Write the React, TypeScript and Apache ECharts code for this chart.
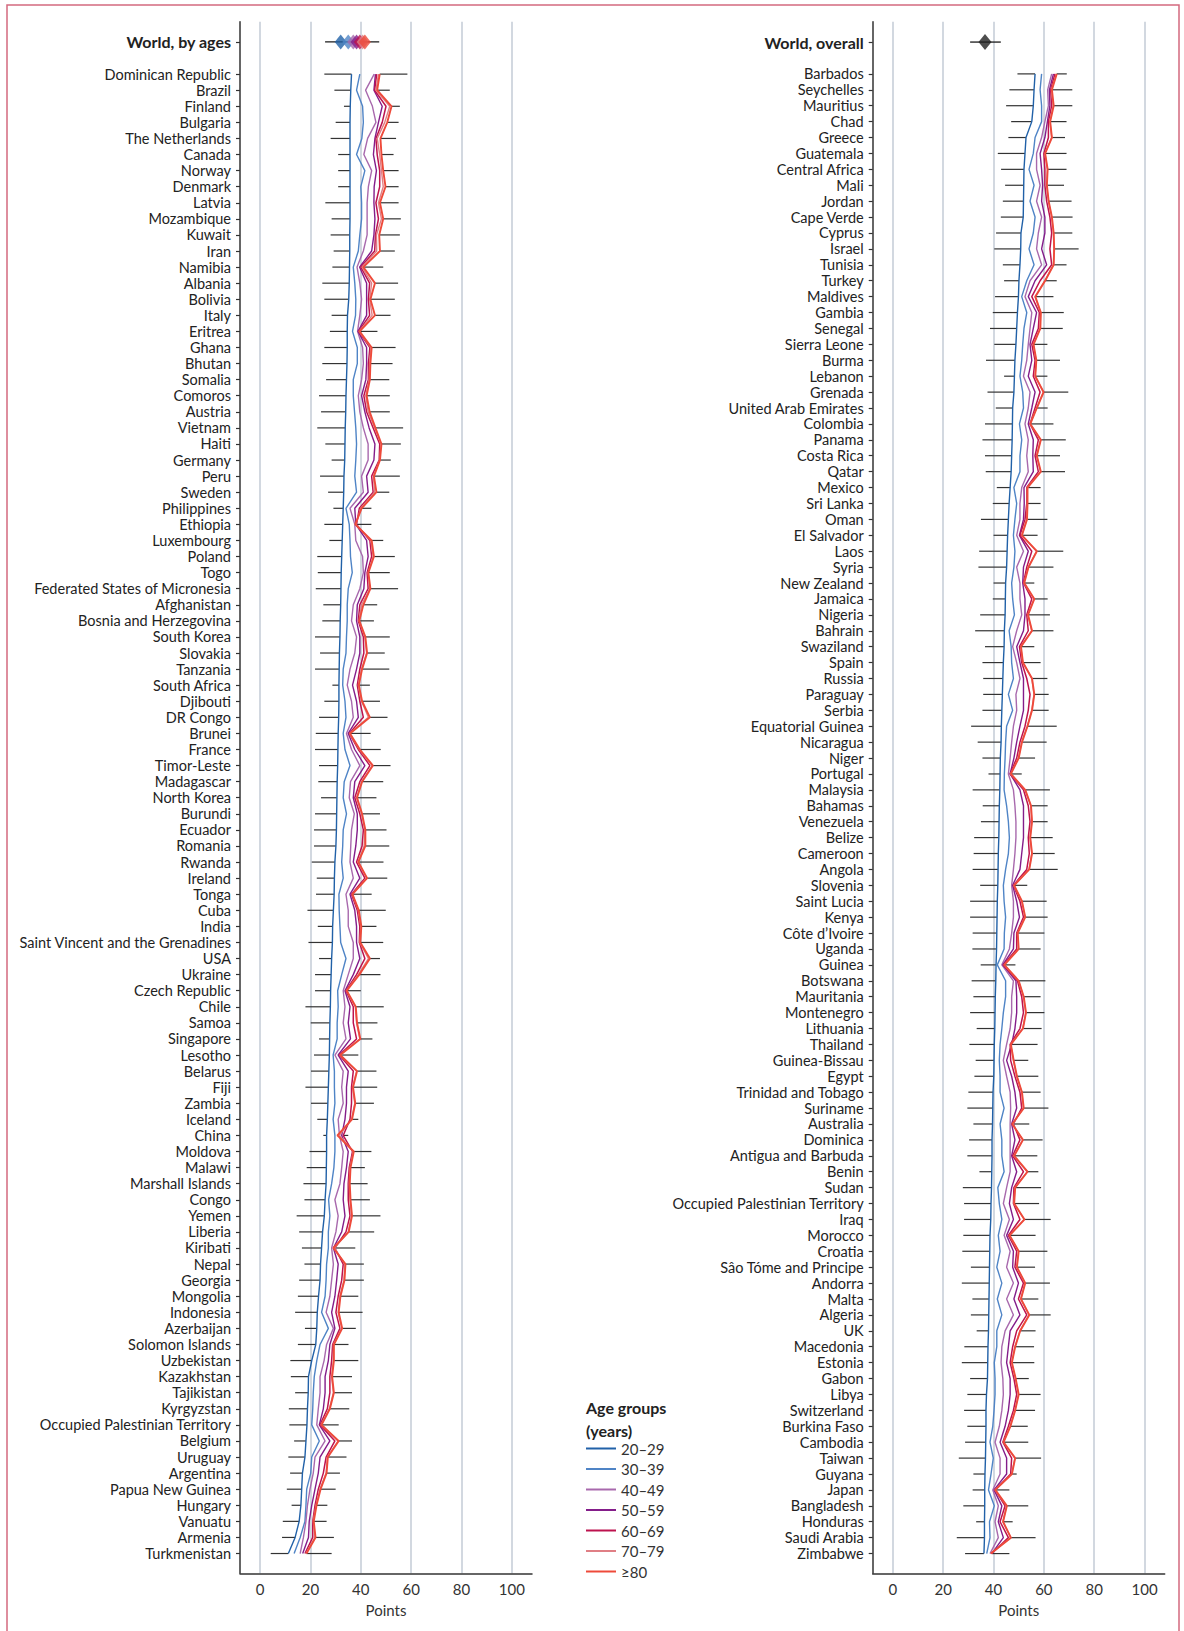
import React, { useEffect, useRef } from 'react';
import * as echarts from 'echarts';

const FONT = 'Lato, "Noto Sans", sans-serif';

const ageGroups = ['20–29', '30–39', '40–49', '50–59', '60–69', '70–79', '≥80'];
const ageColors = ['#2161a8', '#4f84c6', '#a869ad', '#841d8a', '#bd134e', '#e07f85', '#ee4a3a'];

// ---------- Left panel: World, by ages ----------
const leftTitle = 'World, by ages';
const worldAgesValues = [32.0, 35.0, 37.0, 38.3, 39.6, 40.7, 41.6];
const worldAgesLow = 25.8;
const worldAgesHigh = 47.3;

const leftCountries = ['Dominican Republic', 'Brazil', 'Finland', 'Bulgaria', 'The Netherlands', 'Canada', 'Norway', 'Denmark', 'Latvia', 'Mozambique', 'Kuwait', 'Iran', 'Namibia', 'Albania', 'Bolivia', 'Italy', 'Eritrea', 'Ghana', 'Bhutan', 'Somalia', 'Comoros', 'Austria', 'Vietnam', 'Haiti', 'Germany', 'Peru', 'Sweden', 'Philippines', 'Ethiopia', 'Luxembourg', 'Poland', 'Togo', 'Federated States of Micronesia', 'Afghanistan', 'Bosnia and Herzegovina', 'South Korea', 'Slovakia', 'Tanzania', 'South Africa', 'Djibouti', 'DR Congo', 'Brunei', 'France', 'Timor-Leste', 'Madagascar', 'North Korea', 'Burundi', 'Ecuador', 'Romania', 'Rwanda', 'Ireland', 'Tonga', 'Cuba', 'India', 'Saint Vincent and the Grenadines', 'USA', 'Ukraine', 'Czech Republic', 'Chile', 'Samoa', 'Singapore', 'Lesotho', 'Belarus', 'Fiji', 'Zambia', 'Iceland', 'China', 'Moldova', 'Malawi', 'Marshall Islands', 'Congo', 'Yemen', 'Liberia', 'Kiribati', 'Nepal', 'Georgia', 'Mongolia', 'Indonesia', 'Azerbaijan', 'Solomon Islands', 'Uzbekistan', 'Kazakhstan', 'Tajikistan', 'Kyrgyzstan', 'Occupied Palestinian Territory', 'Belgium', 'Uruguay', 'Argentina', 'Papua New Guinea', 'Hungary', 'Vanuatu', 'Armenia', 'Turkmenistan'];

const left20 = [36.3, 36.0, 35.8, 35.7, 35.7, 35.7, 35.7, 35.7, 35.7, 35.7, 35.6, 35.6, 35.5, 35.4, 35.2, 34.7, 34.6, 34.6, 34.5, 34.3, 34.1, 34.0, 33.8, 33.7, 33.6, 33.3, 33.2, 33.0, 32.8, 32.6, 32.4, 32.2, 32.1, 32.0, 31.8, 31.7, 31.5, 31.4, 31.3, 31.3, 31.2, 31.0, 30.9, 30.8, 30.6, 30.5, 30.4, 30.3, 30.1, 29.7, 29.5, 29.4, 29.1, 28.8, 28.7, 28.4, 28.2, 28.0, 27.9, 27.7, 27.6, 27.5, 27.3, 27.1, 26.9, 26.7, 26.4, 26.4, 26.3, 26.2, 25.8, 25.5, 24.8, 24.4, 24.0, 23.8, 23.2, 22.7, 22.5, 22.1, 20.5, 19.2, 19.1, 18.8, 18.6, 18.2, 17.8, 16.8, 16.5, 16.2, 15.5, 13.9, 11.2];
const left30 = [39.6, 38.3, 40.7, 41.0, 40.4, 38.3, 41.6, 40.0, 40.3, 40.3, 39.6, 39.0, 37.0, 37.6, 38.0, 37.9, 36.7, 38.6, 38.6, 37.0, 37.0, 37.5, 38.0, 38.3, 38.0, 37.6, 38.3, 34.1, 35.4, 35.7, 35.9, 36.6, 35.0, 34.6, 34.6, 34.3, 34.1, 33.0, 32.8, 33.7, 34.1, 33.0, 33.7, 35.7, 33.4, 33.0, 34.3, 33.0, 32.8, 32.4, 33.0, 31.3, 31.4, 31.7, 32.0, 34.1, 32.4, 30.8, 31.0, 30.6, 30.6, 29.0, 29.5, 29.5, 29.7, 29.0, 29.7, 29.7, 29.3, 28.4, 27.2, 27.7, 27.1, 27.1, 26.4, 26.2, 25.8, 24.4, 27.1, 23.8, 22.5, 21.5, 21.1, 20.9, 20.5, 23.5, 20.5, 20.1, 18.5, 18.2, 17.8, 15.9, 13.5];
const left40 = [45.3, 41.9, 44.6, 46.0, 42.7, 41.2, 44.3, 43.0, 42.5, 42.5, 42.5, 41.0, 38.5, 39.6, 40.3, 39.6, 38.7, 40.7, 41.0, 40.3, 39.0, 39.6, 41.0, 42.9, 42.9, 40.3, 41.0, 35.7, 37.6, 38.0, 40.7, 41.0, 39.6, 37.0, 36.3, 38.3, 37.6, 35.7, 34.6, 36.3, 37.0, 34.3, 36.3, 39.6, 35.9, 35.4, 37.4, 36.3, 36.0, 35.7, 37.0, 34.1, 35.0, 35.0, 37.0, 37.0, 35.0, 33.0, 33.7, 33.0, 34.1, 29.7, 33.0, 32.4, 33.0, 31.0, 31.5, 33.0, 32.4, 31.7, 29.7, 31.0, 30.1, 28.4, 29.1, 28.4, 27.7, 26.2, 29.1, 26.4, 25.4, 23.8, 23.8, 23.1, 22.5, 25.8, 21.8, 21.1, 19.8, 18.8, 18.2, 17.2, 15.9];
const left50 = [45.8, 45.2, 48.5, 47.0, 45.6, 45.0, 46.2, 45.3, 45.2, 45.6, 45.2, 44.3, 39.5, 42.3, 42.3, 42.3, 38.9, 42.3, 42.3, 42.0, 40.3, 41.6, 43.3, 45.6, 45.2, 42.3, 42.9, 37.6, 38.0, 42.3, 42.9, 41.6, 41.2, 38.6, 38.3, 39.6, 39.6, 38.3, 36.7, 38.3, 39.0, 35.0, 37.6, 41.6, 37.6, 37.0, 38.6, 38.6, 38.0, 37.0, 39.6, 35.7, 37.6, 38.3, 38.3, 39.6, 37.0, 33.7, 35.7, 35.0, 35.9, 31.0, 35.0, 34.3, 34.3, 33.7, 32.4, 35.0, 34.3, 33.3, 33.0, 33.7, 32.4, 29.1, 31.0, 30.4, 29.7, 28.4, 29.7, 27.7, 27.1, 25.8, 25.8, 25.1, 23.5, 27.7, 23.8, 23.1, 21.8, 20.5, 19.5, 19.2, 16.9];
const left60 = [46.3, 45.5, 50.0, 48.5, 46.0, 46.5, 47.5, 47.5, 46.0, 47.0, 45.8, 45.5, 40.0, 43.5, 43.0, 43.5, 39.1, 43.6, 43.0, 43.0, 41.2, 42.3, 44.9, 47.5, 47.3, 44.3, 44.9, 39.4, 38.3, 43.6, 44.3, 42.5, 42.9, 39.6, 39.0, 41.0, 41.2, 39.6, 38.6, 39.6, 41.0, 35.4, 39.0, 43.6, 39.6, 37.6, 39.6, 41.0, 40.5, 38.3, 41.6, 36.3, 38.6, 39.6, 39.4, 41.6, 38.3, 34.1, 37.0, 37.0, 38.3, 31.4, 37.0, 36.3, 36.3, 35.7, 33.0, 36.7, 35.4, 35.0, 35.0, 35.7, 34.1, 29.7, 33.0, 32.4, 31.0, 30.1, 31.7, 28.8, 28.4, 27.7, 27.7, 26.7, 23.8, 29.7, 26.2, 25.1, 23.1, 21.8, 20.9, 20.9, 17.8];
const left70 = [47.0, 46.0, 51.5, 49.5, 46.5, 47.5, 48.2, 48.9, 47.0, 48.2, 46.2, 46.3, 40.5, 44.3, 43.5, 44.5, 39.3, 44.0, 43.5, 43.3, 42.0, 42.9, 45.5, 48.0, 47.5, 45.0, 45.5, 40.0, 38.0, 44.0, 44.9, 42.9, 43.6, 40.3, 39.3, 41.6, 42.3, 40.3, 39.0, 40.3, 43.0, 35.5, 39.4, 44.5, 40.3, 38.3, 40.3, 41.6, 41.3, 38.9, 42.3, 36.6, 39.0, 40.0, 39.6, 43.0, 39.0, 34.3, 37.8, 38.3, 39.6, 31.7, 38.3, 36.7, 37.6, 36.3, 31.5, 37.0, 35.7, 35.4, 35.7, 36.3, 35.0, 29.5, 33.7, 33.3, 31.7, 31.0, 32.4, 29.1, 29.1, 28.4, 29.1, 27.5, 24.2, 31.0, 26.7, 26.2, 23.8, 22.2, 21.1, 21.8, 18.2];
const left80 = [47.5, 46.5, 52.2, 50.5, 47.8, 48.2, 48.9, 49.8, 47.6, 48.9, 47.3, 47.6, 41.0, 45.6, 43.8, 45.6, 39.5, 44.3, 43.8, 43.6, 42.3, 43.5, 45.8, 48.2, 47.6, 45.2, 46.2, 40.3, 37.8, 44.3, 45.2, 43.0, 43.8, 41.0, 39.4, 41.8, 42.5, 40.5, 39.2, 40.5, 43.6, 35.7, 39.6, 44.8, 40.5, 38.5, 40.5, 41.8, 41.8, 39.0, 42.5, 36.7, 39.2, 40.2, 39.8, 43.6, 39.4, 34.4, 38.0, 38.5, 39.8, 31.8, 38.5, 36.9, 37.8, 36.5, 30.7, 37.2, 35.9, 35.6, 35.9, 36.5, 35.2, 29.1, 33.9, 33.5, 31.9, 31.2, 32.6, 29.3, 29.3, 28.6, 29.3, 27.7, 24.4, 31.2, 26.9, 26.4, 24.0, 22.4, 21.3, 22.0, 18.4];
const leftLow = [25.5, 29.5, 33.3, 30.0, 28.0, 31.0, 31.0, 31.0, 25.9, 28.4, 28.0, 29.2, 28.7, 24.7, 25.5, 28.4, 27.7, 25.5, 24.7, 26.2, 23.4, 24.2, 22.7, 25.9, 28.4, 23.8, 27.0, 29.1, 25.5, 27.5, 22.7, 22.9, 22.1, 25.1, 24.7, 21.8, 23.8, 21.8, 28.7, 25.5, 23.4, 22.1, 21.8, 23.4, 23.1, 24.2, 21.8, 21.4, 21.4, 20.5, 22.5, 22.2, 18.8, 22.9, 19.2, 23.4, 21.8, 21.8, 18.0, 20.1, 23.4, 21.4, 20.2, 18.0, 20.2, 22.7, 25.1, 19.6, 18.5, 17.2, 17.6, 14.5, 15.5, 16.6, 17.6, 15.5, 15.0, 13.9, 17.8, 15.0, 12.0, 12.2, 13.9, 11.4, 11.6, 13.5, 11.2, 11.9, 10.6, 12.5, 9.0, 8.7, 4.2];
const leftHigh = [58.5, 51.5, 55.5, 55.0, 54.0, 53.0, 55.0, 55.0, 55.0, 55.9, 55.5, 53.5, 48.9, 54.8, 53.5, 51.8, 46.6, 53.8, 52.6, 51.3, 51.5, 51.5, 56.8, 55.9, 51.9, 55.5, 51.3, 44.2, 44.2, 48.9, 53.5, 51.5, 54.8, 46.5, 45.2, 51.5, 49.5, 51.3, 43.6, 47.6, 50.6, 43.9, 47.9, 51.8, 48.9, 46.2, 47.6, 50.2, 51.3, 49.0, 50.5, 44.3, 49.9, 46.2, 48.9, 47.6, 47.8, 40.0, 49.1, 46.6, 44.6, 39.0, 46.2, 46.5, 45.2, 39.0, 35.0, 44.2, 41.6, 42.7, 43.6, 47.8, 45.3, 37.8, 41.2, 41.2, 39.0, 40.7, 38.0, 35.1, 39.0, 36.5, 36.5, 35.4, 31.2, 36.5, 34.3, 31.7, 30.0, 26.7, 26.4, 29.3, 28.4];

// ---------- Right panel: World, overall ----------
const rightTitle = 'World, overall';
const worldOverallValue = 36.6;
const worldOverallLow = 30.7;
const worldOverallHigh = 42.9;

const rightCountries = ['Barbados', 'Seychelles', 'Mauritius', 'Chad', 'Greece', 'Guatemala', 'Central Africa', 'Mali', 'Jordan', 'Cape Verde', 'Cyprus', 'Israel', 'Tunisia', 'Turkey', 'Maldives', 'Gambia', 'Senegal', 'Sierra Leone', 'Burma', 'Lebanon', 'Grenada', 'United Arab Emirates', 'Colombia', 'Panama', 'Costa Rica', 'Qatar', 'Mexico', 'Sri Lanka', 'Oman', 'El Salvador', 'Laos', 'Syria', 'New Zealand', 'Jamaica', 'Nigeria', 'Bahrain', 'Swaziland', 'Spain', 'Russia', 'Paraguay', 'Serbia', 'Equatorial Guinea', 'Nicaragua', 'Niger', 'Portugal', 'Malaysia', 'Bahamas', 'Venezuela', 'Belize', 'Cameroon', 'Angola', 'Slovenia', 'Saint Lucia', 'Kenya', 'Côte d’Ivoire', 'Uganda', 'Guinea', 'Botswana', 'Mauritania', 'Montenegro', 'Lithuania', 'Thailand', 'Guinea-Bissau', 'Egypt', 'Trinidad and Tobago', 'Suriname', 'Australia', 'Dominica', 'Antigua and Barbuda', 'Benin', 'Sudan', 'Occupied Palestinian Territory', 'Iraq', 'Morocco', 'Croatia', 'Sâo Tóme and Principe', 'Andorra', 'Malta', 'Algeria', 'UK', 'Macedonia', 'Estonia', 'Gabon', 'Libya', 'Switzerland', 'Burkina Faso', 'Cambodia', 'Taiwan', 'Guyana', 'Japan', 'Bangladesh', 'Honduras', 'Saudi Arabia', 'Zimbabwe'];

const right20 = [56.5, 56.1, 55.8, 55.2, 52.9, 52.5, 52.1, 52.0, 51.9, 51.8, 50.9, 50.8, 50.5, 50.1, 49.9, 49.5, 49.2, 48.9, 48.5, 48.3, 48.1, 47.6, 47.5, 47.4, 47.2, 47.0, 46.6, 46.2, 45.9, 45.6, 45.4, 45.2, 44.8, 44.7, 44.6, 44.3, 44.2, 43.9, 43.7, 43.5, 43.3, 43.1, 43.0, 42.7, 42.6, 42.5, 42.3, 42.2, 42.1, 41.9, 41.8, 41.7, 41.5, 41.4, 41.3, 41.2, 41.0, 40.9, 40.7, 40.6, 40.5, 40.3, 40.2, 40.1, 39.8, 39.7, 39.6, 39.4, 39.4, 39.3, 39.2, 39.0, 38.9, 38.6, 38.5, 38.4, 38.3, 38.2, 38.1, 38.0, 37.8, 37.7, 37.6, 37.2, 37.0, 37.0, 36.9, 36.8, 36.6, 36.5, 36.5, 36.4, 36.4, 36.2];
const right30 = [59.1, 58.5, 59.1, 59.1, 56.5, 55.8, 54.1, 56.1, 54.5, 56.5, 55.8, 54.1, 56.1, 53.2, 51.2, 53.2, 52.1, 51.6, 51.2, 50.5, 51.6, 51.9, 50.3, 51.2, 50.5, 50.5, 48.1, 49.2, 48.5, 47.9, 48.5, 48.1, 47.2, 47.6, 48.3, 46.2, 47.0, 47.2, 47.9, 45.9, 47.6, 45.2, 44.8, 44.6, 44.3, 44.2, 45.2, 45.9, 46.3, 45.9, 44.8, 43.9, 44.2, 44.8, 44.3, 44.2, 41.5, 44.8, 44.8, 43.9, 43.3, 42.6, 42.3, 42.6, 42.6, 44.2, 42.6, 43.3, 43.3, 44.2, 41.7, 42.3, 43.3, 41.9, 42.6, 41.3, 43.3, 41.5, 43.3, 41.3, 41.3, 40.3, 40.6, 40.6, 40.2, 39.7, 38.6, 39.9, 39.0, 38.0, 40.3, 38.4, 38.6, 37.3];
const right40 = [63.1, 61.5, 61.8, 60.4, 59.1, 57.1, 57.1, 58.5, 57.1, 59.1, 57.8, 57.1, 59.1, 54.5, 52.5, 55.2, 54.5, 53.8, 53.2, 51.9, 54.5, 53.8, 52.5, 53.8, 53.2, 53.8, 51.2, 50.5, 50.5, 49.2, 51.9, 49.2, 50.5, 50.5, 51.2, 49.2, 47.6, 49.2, 50.5, 48.9, 49.2, 47.9, 47.2, 46.6, 45.9, 47.9, 48.5, 48.9, 48.9, 48.5, 47.9, 47.2, 47.9, 47.9, 47.2, 46.3, 43.3, 47.9, 47.2, 47.2, 46.6, 45.2, 43.9, 45.2, 46.6, 46.8, 46.6, 46.6, 46.6, 46.6, 45.2, 43.9, 46.3, 44.2, 46.6, 45.2, 47.9, 45.2, 47.9, 44.6, 43.3, 43.0, 43.7, 43.9, 43.3, 42.3, 40.6, 42.6, 42.6, 39.7, 41.9, 40.6, 41.9, 38.6];
const right50 = [63.8, 62.2, 62.4, 61.4, 60.4, 58.5, 59.1, 59.5, 59.1, 60.4, 60.4, 59.1, 61.1, 56.5, 53.8, 57.1, 55.8, 54.5, 55.2, 53.8, 56.5, 55.2, 53.8, 55.8, 55.6, 55.8, 52.1, 52.2, 51.9, 50.3, 53.8, 51.9, 51.6, 52.5, 52.5, 51.9, 49.2, 50.5, 51.9, 51.9, 51.9, 50.5, 49.2, 48.1, 46.6, 50.5, 51.9, 51.9, 51.9, 51.2, 50.5, 47.6, 49.2, 50.3, 48.1, 47.9, 43.7, 48.9, 49.2, 49.2, 48.5, 47.2, 45.2, 47.2, 48.5, 49.2, 47.2, 48.5, 47.2, 49.2, 47.2, 46.3, 47.9, 45.2, 47.9, 47.6, 49.9, 48.1, 50.5, 46.6, 45.9, 45.2, 46.6, 46.6, 45.9, 44.6, 42.6, 45.2, 45.2, 40.2, 43.3, 41.9, 43.9, 39.3];
const right60 = [64.4, 62.7, 63.1, 61.8, 61.8, 60.0, 60.4, 60.4, 61.1, 62.4, 63.1, 62.4, 63.1, 58.5, 55.2, 58.2, 57.8, 55.2, 56.5, 55.8, 58.5, 56.5, 54.5, 57.8, 56.5, 57.8, 53.2, 53.2, 52.5, 50.5, 55.2, 53.2, 51.9, 55.2, 53.2, 53.8, 50.3, 51.2, 53.2, 54.5, 53.8, 52.5, 50.5, 49.2, 46.6, 51.9, 53.8, 54.5, 53.8, 54.2, 53.2, 47.9, 50.5, 51.9, 49.2, 49.2, 43.9, 49.5, 51.2, 51.9, 50.5, 46.6, 46.8, 48.5, 50.5, 51.2, 47.9, 50.5, 47.6, 51.9, 48.1, 47.9, 50.5, 45.9, 49.2, 48.5, 51.9, 49.9, 53.2, 49.2, 47.6, 46.6, 48.1, 49.2, 47.9, 45.9, 43.7, 47.2, 46.8, 40.6, 44.6, 42.6, 45.9, 39.3];
const right70 = [65.0, 63.0, 63.7, 62.4, 63.1, 60.4, 61.4, 61.1, 61.8, 63.1, 63.8, 64.0, 63.8, 60.4, 56.5, 58.7, 58.5, 55.8, 56.9, 56.5, 59.8, 57.1, 54.5, 58.7, 57.1, 58.7, 53.4, 53.4, 53.2, 51.2, 57.1, 53.8, 52.1, 56.1, 53.6, 55.2, 50.8, 51.6, 55.2, 56.1, 55.2, 53.4, 51.2, 49.9, 46.8, 52.5, 54.8, 55.2, 54.5, 55.2, 54.1, 48.1, 51.2, 52.5, 49.5, 49.9, 44.2, 49.9, 51.9, 52.8, 51.6, 46.8, 47.9, 49.2, 51.2, 51.9, 47.6, 51.6, 48.1, 53.4, 48.5, 48.1, 52.2, 46.3, 49.9, 49.2, 52.5, 50.8, 54.1, 50.5, 48.5, 47.2, 48.7, 49.9, 48.5, 46.6, 43.9, 48.5, 47.2, 40.6, 45.2, 43.7, 46.8, 39.0];
const right80 = [65.1, 63.2, 63.9, 62.5, 63.2, 60.5, 61.5, 61.2, 61.9, 63.2, 63.9, 64.1, 63.9, 60.5, 56.6, 58.8, 58.6, 55.9, 57.0, 56.6, 59.9, 57.2, 54.6, 58.8, 57.2, 58.8, 53.5, 53.5, 53.3, 51.3, 57.2, 53.9, 52.2, 56.2, 53.7, 55.3, 50.9, 51.7, 55.3, 56.2, 55.3, 53.5, 51.3, 50.0, 46.9, 52.6, 54.9, 55.3, 54.6, 55.3, 54.2, 48.2, 51.3, 52.6, 49.6, 50.0, 44.3, 50.0, 52.0, 52.9, 51.7, 46.9, 48.0, 49.3, 51.3, 52.0, 47.4, 51.7, 48.2, 53.5, 48.6, 48.2, 52.3, 46.4, 50.0, 49.3, 52.6, 50.9, 54.2, 50.6, 48.6, 47.3, 48.8, 50.0, 48.6, 46.7, 44.0, 48.6, 47.3, 40.7, 45.3, 43.8, 46.9, 38.9];
const rightLow = [49.5, 46.3, 45.0, 47.0, 45.9, 41.7, 43.0, 44.6, 43.7, 42.9, 41.0, 40.3, 43.7, 44.2, 40.6, 39.7, 38.6, 40.3, 37.0, 44.2, 37.6, 40.9, 36.6, 35.6, 36.6, 36.9, 41.3, 39.7, 35.0, 40.0, 34.3, 34.0, 40.0, 39.7, 34.7, 32.7, 36.6, 35.6, 35.9, 35.9, 35.6, 31.1, 33.7, 35.6, 38.0, 31.7, 35.7, 35.0, 32.3, 32.1, 31.7, 34.7, 30.7, 30.7, 31.7, 31.6, 34.9, 31.3, 32.0, 30.7, 33.3, 30.4, 32.9, 32.4, 30.0, 29.6, 32.0, 30.3, 29.6, 34.4, 27.8, 28.3, 28.3, 28.0, 27.6, 31.0, 27.4, 31.6, 31.0, 33.3, 28.4, 27.4, 30.7, 29.6, 28.3, 29.6, 28.7, 26.2, 32.0, 31.7, 28.0, 33.1, 25.4, 28.7];
const rightHigh = [69.1, 71.3, 71.3, 69.0, 68.4, 69.0, 69.0, 68.0, 71.0, 71.4, 71.3, 73.8, 69.0, 65.1, 63.8, 67.9, 67.5, 61.4, 66.4, 61.4, 69.7, 61.5, 63.8, 68.7, 66.4, 68.4, 58.7, 58.7, 61.4, 57.5, 67.7, 63.8, 56.2, 61.5, 62.4, 63.8, 56.2, 58.7, 61.4, 61.9, 61.9, 65.1, 61.1, 56.5, 51.2, 62.4, 61.5, 61.5, 63.5, 64.3, 65.5, 53.4, 61.1, 61.5, 60.2, 58.7, 48.7, 60.6, 58.7, 60.2, 59.1, 57.5, 53.8, 57.8, 58.7, 61.8, 54.2, 59.5, 57.4, 57.8, 58.9, 58.1, 62.7, 56.7, 61.4, 56.5, 62.4, 57.8, 62.7, 56.7, 56.1, 56.2, 54.0, 58.7, 56.5, 53.6, 53.8, 58.9, 49.2, 46.3, 53.8, 47.6, 56.7, 46.3];

const xTicks = [0, 20, 40, 60, 80, 100];

interface Panel {
  names: string[];
  title: string;
  groups: number[][];
  low: number[];
  high: number[];
  topPad: number;
  bottomPad: number;
  left: number;
}

const panels: Panel[] = [
  { names: leftCountries, title: leftTitle, groups: [left20, left30, left40, left50, left60, left70, left80], low: leftLow, high: leftHigh, topPad: 1.26, bottomPad: 1.23, left: 240 },
  { names: rightCountries, title: rightTitle, groups: [right20, right30, right40, right50, right60, right70, right80], low: rightLow, high: rightHigh, topPad: 1.28, bottomPad: 1.24, left: 872.7 },
];

const WHISKER = '#333333';

function whiskerRender(params: any, api: any) {
  const y = api.value(4);
  const a = api.coord([api.value(0), y]);
  const b = api.coord([api.value(1), y]);
  const c = api.coord([api.value(2), y]);
  const d = api.coord([api.value(3), y]);
  const style = { stroke: WHISKER, lineWidth: 1.2 };
  return {
    type: 'group',
    children: [
      { type: 'line', shape: { x1: a[0], y1: a[1], x2: b[0], y2: b[1] }, style },
      { type: 'line', shape: { x1: c[0], y1: c[1], x2: d[0], y2: d[1] }, style },
    ],
  };
}

function fullBarRender(params: any, api: any) {
  const y = api.value(2);
  const a = api.coord([api.value(0), y]);
  const b = api.coord([api.value(1), y]);
  return { type: 'line', shape: { x1: a[0], y1: a[1], x2: b[0], y2: b[1] }, style: { stroke: '#1a1a1a', lineWidth: 1.3 } };
}

function buildOption() {
  const grids: any[] = [];
  const xAxes: any[] = [];
  const yAxes: any[] = [];
  const series: any[] = [];

  panels.forEach((p, pi) => {
    const lastIdx = p.names.length + 1;
    const rowIdx = [0, ...p.names.map((_, i) => i + 2)];
    grids.push({ left: p.left, width: 292, top: 21.7, bottom: 57.7, containLabel: false });
    xAxes.push({
      type: 'value', gridIndex: pi, min: -8, max: 108, position: 'bottom',
      name: 'Points', nameLocation: 'middle', nameGap: 29,
      nameTextStyle: { fontSize: 15, color: '#333', fontFamily: FONT },
      axisLine: { show: true, onZero: false, lineStyle: { color: '#333', width: 1.5 } },
      axisTick: { show: false, customValues: xTicks },
      axisLabel: { customValues: xTicks, fontSize: 15, color: '#333', margin: 8, fontFamily: FONT },
      splitLine: { show: true, lineStyle: { color: '#c3cbd6', width: 1.5 } },
    });
    yAxes.push({
      type: 'value', gridIndex: pi, inverse: true,
      min: -p.topPad, max: lastIdx + p.bottomPad,
      axisLine: { show: true, onZero: false, lineStyle: { color: '#333', width: 1.5 } },
      axisTick: { show: true, customValues: rowIdx, length: 4, lineStyle: { color: '#333', width: 1.2 } },
      axisLabel: {
        customValues: rowIdx, margin: 9, fontSize: 14.5, color: '#222', fontFamily: FONT,
        formatter: (v: number) => {
          const k = Math.round(v);
          if (k === 0) return '{b|' + p.title + '}';
          return p.names[k - 2] ?? '';
        },
        rich: { b: { fontWeight: 'bold', fontSize: 16, color: '#222', fontFamily: FONT } },
      },
      splitLine: { show: false },
    });

    // whiskers
    series.push({
      type: 'custom', xAxisIndex: pi, yAxisIndex: pi, z: 2, silent: true,
      renderItem: whiskerRender,
      encode: { x: [0, 1, 2, 3], y: 4 },
      data: p.names.map((_, i) => {
        const vals = p.groups.map((g) => g[i]);
        return [p.low[i], Math.min(...vals), Math.max(...vals), p.high[i], i + 2];
      }),
    });

    // age-group lines
    p.groups.forEach((g, k) => {
      series.push({
        type: 'line', name: ageGroups[k], xAxisIndex: pi, yAxisIndex: pi,
        z: 3 + k, showSymbol: false, symbol: 'none', silent: true,
        lineStyle: { color: ageColors[k], width: k === 6 ? 1.9 : k === 4 ? 1.5 : 1.4 },
        itemStyle: { color: ageColors[k] },
        data: g.map((v, i) => [v, i + 2]),
      });
    });
  });

  // World rows
  series.push({
    type: 'custom', xAxisIndex: 0, yAxisIndex: 0, z: 10, renderItem: fullBarRender, silent: true,
    encode: { x: [0, 1], y: 2 }, data: [[worldAgesLow, worldAgesHigh, 0]],
  });
  series.push({
    type: 'scatter', name: 'World, by ages', xAxisIndex: 0, yAxisIndex: 0, z: 11, silent: true,
    symbol: 'diamond', symbolSize: [12, 15],
    data: worldAgesValues.map((v, k) => ({ value: [v, 0], itemStyle: { color: ageColors[k] } })),
  });
  series.push({
    type: 'custom', xAxisIndex: 1, yAxisIndex: 1, z: 10, renderItem: fullBarRender, silent: true,
    encode: { x: [0, 1], y: 2 }, data: [[worldOverallLow, worldOverallHigh, 0]],
  });
  series.push({
    type: 'scatter', name: 'World, overall', xAxisIndex: 1, yAxisIndex: 1, z: 11, silent: true,
    symbol: 'diamond', symbolSize: [13, 16], itemStyle: { color: '#222' },
    data: [[worldOverallValue, 0]],
  });

  return {
    animation: false,
    backgroundColor: '#ffffff',
    textStyle: { fontFamily: FONT },
    title: {
      text: 'Age groups\n(years)', left: 586, top: 1396, padding: 0,
      textStyle: { fontSize: 16, fontWeight: 'bold', color: '#222', lineHeight: 23, fontFamily: FONT },
    },
    legend: {
      orient: 'vertical', left: 586, top: 1441, padding: 0,
      itemWidth: 30, itemHeight: 2, itemGap: 5.5, icon: 'rect',
      textStyle: { fontSize: 15, color: '#333', fontFamily: FONT, lineHeight: 15 },
      data: ageGroups.map((n) => ({ name: n })),
      selectedMode: false,
    },
    graphic: [
      { type: 'rect', shape: { x: 7, y: 5, width: 1172, height: 1660 }, style: { fill: 'none', stroke: '#d4697f', lineWidth: 1.5 }, silent: true },
    ],
    grid: grids,
    xAxis: xAxes,
    yAxis: yAxes,
    series,
  };
}

export default function App() {
  const ref = useRef<HTMLDivElement>(null);
  useEffect(() => {
    document.body.style.margin = '0';
    if (!ref.current) return;
    const chart = echarts.init(ref.current, undefined, { renderer: 'svg' });
    chart.setOption(buildOption() as any);
    return () => chart.dispose();
  }, []);
  return <div ref={ref} style={{ width: 1184, height: 1631 }} />;
}
